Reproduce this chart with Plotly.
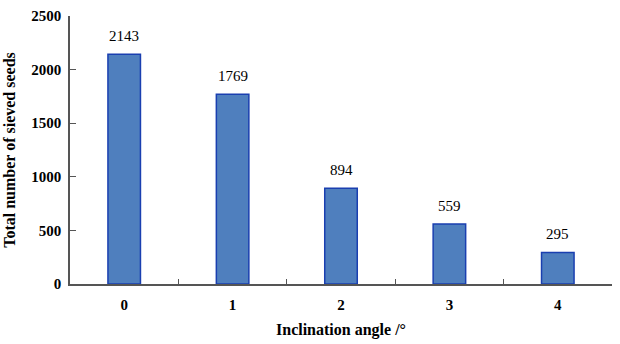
import plotly.graph_objects as go

categories = ["0", "1", "2", "3", "4"]
values = [2143, 1769, 894, 559, 295]
y_ticks = [0, 500, 1000, 1500, 2000, 2500]

serif = "Liberation Serif, Times New Roman, serif"

fig = go.Figure()
fig.add_trace(go.Bar(
    x=categories, y=values, width=0.3,
    marker=dict(color="#4F7FBE", line=dict(color="#1A3FB0", width=1.5)),
    showlegend=False,
))
for c, v in zip(categories, values):
    fig.add_annotation(x=c, y=v, text=str(v), showarrow=False, yanchor="bottom",
                       yshift=8, font=dict(family=serif, size=15, color="black"))

fig.update_layout(
    width=620, height=344,
    margin=dict(l=70, r=8, t=10, b=59),
    plot_bgcolor="white", paper_bgcolor="white",
    font=dict(family=serif, color="black"),
    xaxis=dict(
        type="category", tickson="boundaries", ticks="inside", ticklen=5,
        tickcolor="#555555", showline=True, linecolor="#555555", linewidth=1.5,
        showgrid=False, tickfont=dict(family=serif, size=15, weight="bold"),
        ticklabelstandoff=6,
        title=dict(text="Inclination angle /°", font=dict(family=serif, size=16, weight="bold"), standoff=12),
    ),
    yaxis=dict(
        range=[0, 2500], tickvals=y_ticks, ticks="inside", ticklen=6,
        tickcolor="#555555", showline=True, linecolor="#555555", linewidth=1.5,
        showgrid=False, zeroline=False, tickfont=dict(family=serif, size=15, weight="bold"),
        ticklabelstandoff=4,
        title=dict(text="Total number of sieved seeds", font=dict(family=serif, size=16, weight="bold"), standoff=12),
    ),
)

fig.write_html("out.html")
